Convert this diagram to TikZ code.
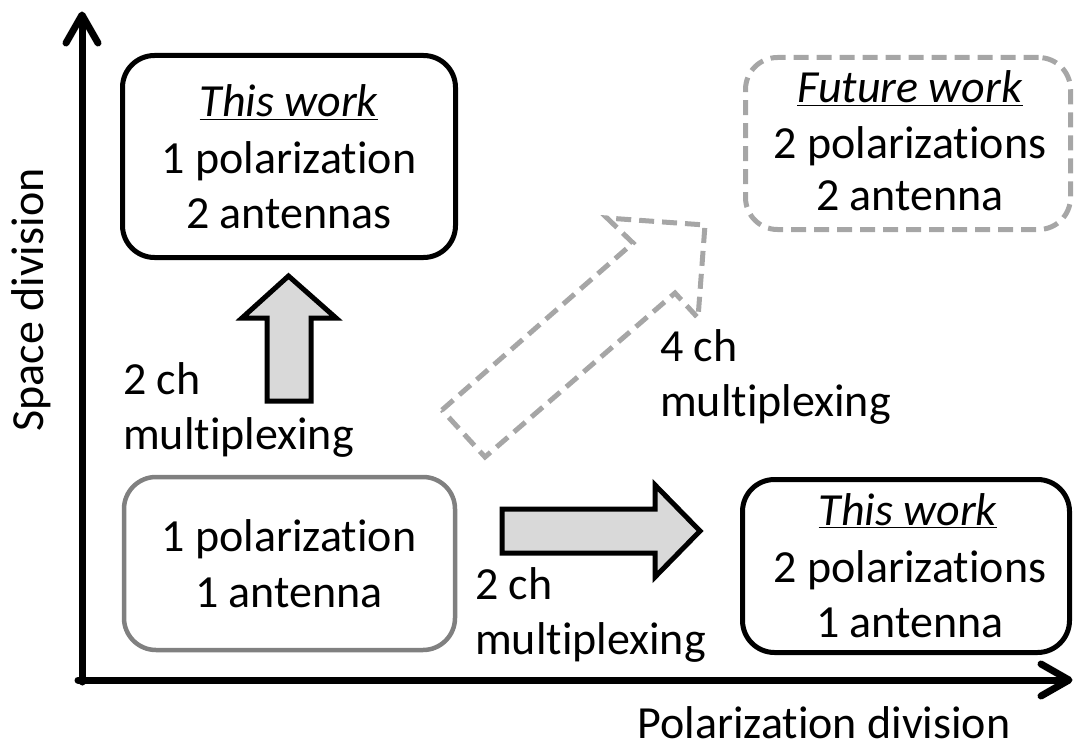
\documentclass[tikz,border=0pt]{standalone}
\usepackage{fontspec}
\setmainfont{Carlito}[Ligatures=NoCommon,RawFeature=-liga]
\definecolor{boxgray}{HTML}{808080}
\definecolor{dashgray}{HTML}{A6A6A6}
\definecolor{arrowfill}{HTML}{D9D9D9}
\begin{document}
\begin{tikzpicture}[x=1pt,y=-1pt,
  txt/.style={inner sep=0pt,font=\fontsize{46}{55}\selectfont},
  lbl/.style={txt,align=left,anchor=west},
  blackbox/.style={draw=black,line width=5pt,rounded corners=32pt,inner sep=0pt},
  graybox/.style={draw=boxgray,line width=4.5pt,rounded corners=32pt,inner sep=0pt},
  dashbox/.style={draw=dashgray,line width=5pt,rounded corners=32pt,inner sep=0pt,dash pattern=on 15pt off 8pt},
  blockarrow/.style={draw=black,fill=arrowfill,line width=5pt,line join=miter},
  dasharrow/.style={draw=dashgray,line width=5pt,dash pattern=on 15pt off 8pt,line join=miter},
  axis/.style={line width=7pt,line cap=round,line join=round}]
\useasboundingbox (0,0) rectangle (1076,749);

% axes
\coordinate (O) at (82,680);
\coordinate (ytip) at (82,15);
\coordinate (xtip) at (1069,680);
\draw[axis] (82,682) -- (82,22);
\draw[axis] (66,43) -- (ytip) -- (98,43);
\draw[axis] (78,680) -- (1062,680);
\draw[axis] (1041,664) -- (xtip) -- (1041,696);

% axis labels
\node[txt,rotate=90,anchor=base] (ylab) at (43,300) {Space division};
\node[txt,anchor=base] (xlab) at (824,738) {Polarization division};

% boxes
\node[blackbox,minimum width=333pt,minimum height=202pt] (tl) at (289,156.5) {};
\node[graybox,minimum width=331pt,minimum height=173pt] (bl) at (289.5,563.5) {};
\node[blackbox,minimum width=327pt,minimum height=173pt] (br) at (906,566) {};
\node[dashbox,minimum width=325pt,minimum height=172pt] (tr) at (908,143.5) {};

% box texts
\node[txt,anchor=base] (tl1) at (289,117) {\underline{\textit{This work}}};
\node[txt,anchor=base] (tl2) at (289,173) {1 polarization};
\node[txt,anchor=base] (tl3) at (289,228) {2 antennas};

\node[txt,anchor=base] (bl1) at (289,551) {1 polarization};
\node[txt,anchor=base] (bl2) at (289,607) {1 antenna};

\node[txt,anchor=base] (br1) at (908,525) {\underline{\textit{This work}}};
\node[txt,anchor=base] (br2) at (910,582) {2 polarizations};
\node[txt,anchor=base] (br3) at (910,637) {1 antenna};

\node[txt,anchor=base] (tr1) at (910,103) {\underline{\textit{Future work}}};
\node[txt,anchor=base] (tr2) at (910,158) {2 polarizations};
\node[txt,anchor=base] (tr3) at (910,210) {2 antenna};

% block arrows
\draw[blockarrow] (267,401) -- (267,318) -- (242,318) -- (288.5,276) -- (336,318) -- (311,318) -- (311,401) -- cycle;
\draw[blockarrow] (502,509) -- (655,509) -- (655,485) -- (700,531) -- (655,577) -- (655,553) -- (502,553) -- cycle;
\draw[dasharrow] (442,410) -- (633,243) -- (607,218) -- (705,225) -- (698,318) -- (675,293) -- (485,457) -- cycle;

% arrow labels
\node[lbl] (l1) at (123,410) {2 ch\\multiplexing};
\node[lbl] (l2) at (660,377) {4 ch\\multiplexing};
\node[lbl] (l3) at (475,615) {2 ch\\multiplexing};
\end{tikzpicture}
\end{document}
